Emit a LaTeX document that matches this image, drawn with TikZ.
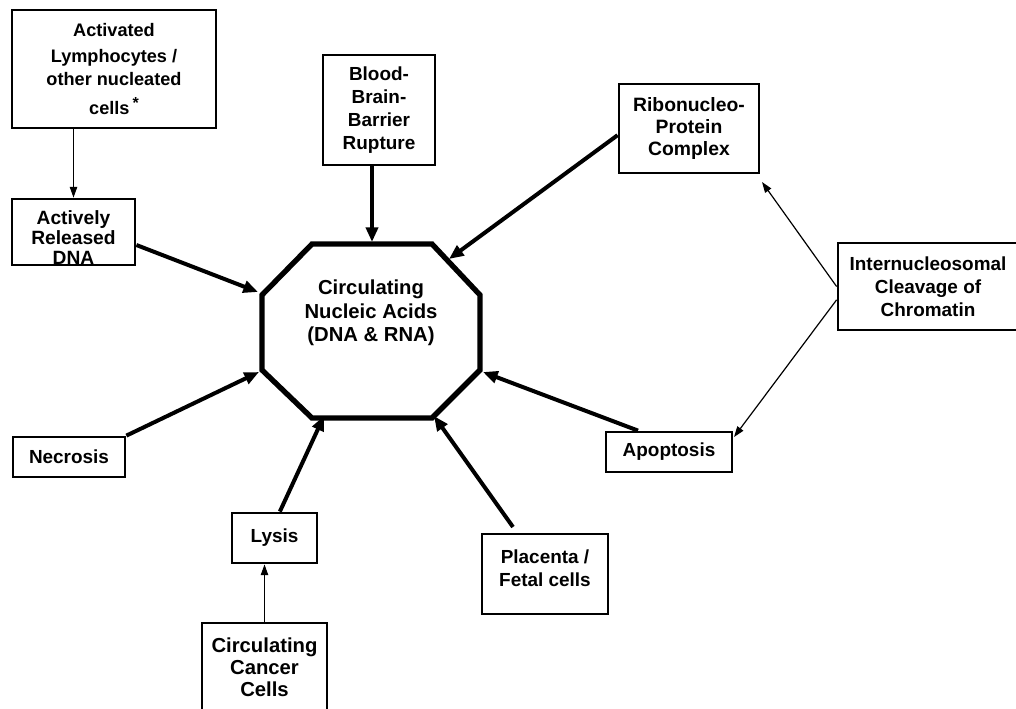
\documentclass[tikz,border=0pt]{standalone}
\usepackage{fontspec}
\setmainfont{Liberation Sans}
\usetikzlibrary{arrows.meta}
\begin{document}
\begin{tikzpicture}[x=0.75pt,y=-0.75pt,
  box/.style={draw, line width=2.1pt, fill=white, align=center, inner sep=0pt,
    font=\bfseries\fontsize{14.2}{17.3}\selectfont},
  bigarrow/.style={line width=3pt, -{Triangle[length=11pt,width=9pt]}},
  thinarrow/.style={line width=0.9pt, -{Triangle[length=8pt,width=5.5pt]}},
  octo/.style={line width=4pt, line join=miter},
  centre/.style={align=center, inner sep=0pt, font=\bfseries\fontsize{15.2}{17.6}\selectfont}]
\useasboundingbox (0,0) rectangle (1016,708);

% octagon
\coordinate (o1) at (312,244);
\coordinate (o2) at (432,244);
\coordinate (o3) at (480,295);
\coordinate (o4) at (480,370);
\coordinate (o5) at (432,418);
\coordinate (o6) at (312,418);
\coordinate (o7) at (262,370);
\coordinate (o8) at (262,295);
\draw[octo] (o1) -- (o2) -- (o3) -- (o4) -- (o5) -- (o6) -- (o7) -- (o8) -- cycle;
\node[centre] (cna) at (371,313) {Circulating\\Nucleic Acids\\(DNA \& RNA)};

% boxes
\node[box, minimum width=153pt, minimum height=88.5pt, font=\bfseries\fontsize{13.6}{17}\selectfont] (act) at (114,69)
  {Activated\\[3pt]Lymphocytes /\\other nucleated\\[5pt]cells\,\raisebox{5pt}{\large *}};
\node[box, minimum width=92.25pt, minimum height=49.5pt, font=\bfseries\fontsize{14.4}{15}\selectfont] (rel) at (73.5,232)
  {\mbox{}\\[4pt]Actively\\Released\\DNA};
\node[box, minimum width=84pt, minimum height=82.5pt] (bbb) at (379,110)
  {Blood-\\Brain-\\Barrier\\Rupture};
\node[box, minimum width=105pt, minimum height=66.75pt, font=\bfseries\fontsize{14.5}{16.5}\selectfont] (rib) at (689,128.5)
  {Ribonucleo-\\Protein\\Complex};
\node[box, minimum width=135pt, minimum height=65.25pt] (intn) at (928,286.5)
  {Internucleosomal\\Cleavage of\\Chromatin};
\node[box, minimum width=94.5pt, minimum height=30pt] (apo) at (669,452) {Apoptosis};
\node[box, minimum width=84pt, minimum height=30pt] (nec) at (69,457) {Necrosis};
\node[box, minimum width=63.75pt, minimum height=37.5pt] (lys) at (274.5,538) {Lysis};
\node[box, minimum width=93.75pt, minimum height=66.75pt, font=\bfseries\fontsize{15.2}{16.5}\selectfont] (can) at (264.5,667.5)
  {Circulating\\Cancer\\Cells};
\node[box, minimum width=94.5pt, minimum height=60pt] (pla) at (545,574)
  {Placenta /\\Fetal cells\\[-8pt]\mbox{}};

% arrow ends
\coordinate (trel) at (258,292);
\coordinate (tbbb) at (372,242);
\coordinate (trib) at (449,259);
\coordinate (tnec) at (259,372);
\coordinate (tlys) at (324,416);
\coordinate (tpla) at (434,416);
\coordinate (tapo) at (483,372);
\coordinate (spla) at (513,527);
\coordinate (tribin) at (762,182);
\coordinate (tapoin) at (734,437);

% thick arrows
\draw[bigarrow] ([yshift=-9.75pt]rel.east) -- (trel);
\draw[bigarrow] (bbb.south -| tbbb) -- (tbbb);
\draw[bigarrow] ([yshift=-5pt]rib.west) -- (trib);
\draw[bigarrow] (nec.north east) -- (tnec);
\draw[bigarrow] ([xshift=4pt]lys.north) -- (tlys);
\draw[bigarrow] (spla) -- (tpla);
\draw[bigarrow] ([xshift=-23.25pt]apo.north) -- (tapo);

% thin arrows
\draw[thinarrow] (act.south -| rel.north) -- (rel.north);
\draw[thinarrow] (can.north) -- (lys.south -| can.north);
\draw[thinarrow] (intn.west) -- (tribin);
\draw[thinarrow] ([yshift=-10pt]intn.west) -- (tapoin);
\end{tikzpicture}
\end{document}
